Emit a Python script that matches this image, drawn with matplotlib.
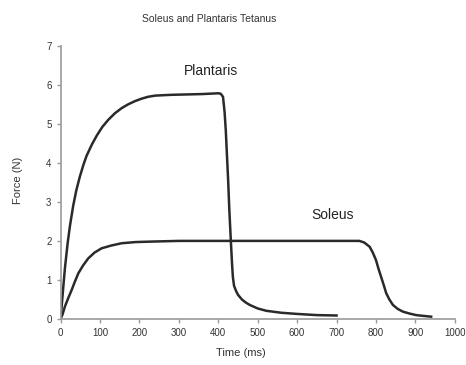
import matplotlib
matplotlib.use('Agg')
import matplotlib.pyplot as plt

plt.rcParams['font.family'] = ['Liberation Sans', 'DejaVu Sans']

# plantaris tetanus (time in ms, force in N)
plantarisTime = [0, 5, 11, 18, 24, 32, 40, 49, 58, 66, 80, 92, 106, 121, 138, 155, 172, 189, 205, 222, 240,
                 280, 320, 360, 400, 406, 412, 416, 419, 422, 425, 428, 432, 435, 437, 440, 445, 450,
                 460, 470, 480, 500, 522, 560, 600, 650, 700]
plantarisForce = [0, 0.6, 1.3, 1.95, 2.4, 2.9, 3.3, 3.65, 3.95, 4.18, 4.48, 4.7, 4.92, 5.1, 5.27, 5.4, 5.5, 5.58, 5.64, 5.69, 5.72,
                  5.74, 5.75, 5.76, 5.78, 5.77, 5.69, 5.3, 4.84, 4.2, 3.56, 2.8, 1.98, 1.4, 1.08, 0.85, 0.72, 0.62,
                  0.5, 0.42, 0.36, 0.27, 0.21, 0.16, 0.13, 0.1, 0.09]

# soleus tetanus
soleusTime = [0, 5, 11, 20, 28, 36, 45, 57, 70, 86, 104, 128, 155, 190, 222, 260, 300, 400, 500, 600, 700,
              758, 770, 784, 792, 800, 806, 813, 820, 826, 834, 843, 855, 868, 885, 902, 920, 940]
soleusForce = [0, 0.12, 0.32, 0.55, 0.74, 0.95, 1.17, 1.37, 1.55, 1.7, 1.81, 1.88, 1.94, 1.97, 1.98, 1.99, 2.0, 2.0, 2.0, 2.0, 2.0,
               2.0, 1.96, 1.85, 1.7, 1.51, 1.3, 1.08, 0.86, 0.66, 0.5, 0.36, 0.26, 0.19, 0.14, 0.1, 0.08, 0.06]

xTicks = [0, 100, 200, 300, 400, 500, 600, 700, 800, 900, 1000]
yTicks = [0, 1, 2, 3, 4, 5, 6, 7]

fig = plt.figure(figsize=(4.66, 3.65), dpi=100)
ax = fig.add_axes([0.13, 0.126, 0.846, 0.749])

ax.plot(plantarisTime, plantarisForce, color='#2a2a2a', linewidth=1.8)
ax.plot(soleusTime, soleusForce, color='#2a2a2a', linewidth=1.8)

ax.set_xlim(0, 1000)
ax.set_ylim(0, 7)
ax.set_xticks(xTicks)
ax.set_yticks(yTicks)

for side in ['top', 'right']:
    ax.spines[side].set_visible(False)
for side in ['left', 'bottom']:
    ax.spines[side].set_color('#9a9a9a')
    ax.spines[side].set_linewidth(1.2)
ax.tick_params(colors='#9a9a9a', labelcolor='#333333', labelsize=7, length=3, width=1)

ax.text(381, 6.36, 'Plantaris', fontsize=10, color='#222222', ha='center', va='center')
ax.text(690, 2.66, 'Soleus', fontsize=10, color='#222222', ha='center', va='center')

fig.text(0.449, 0.948, 'Soleus and Plantaris Tetanus', fontsize=7.5, color='#333333', ha='center', va='center')
fig.text(0.517, 0.02, 'Time (ms)', fontsize=8, color='#333333', ha='center', va='bottom')
fig.text(0.038, 0.507, 'Force (N)', fontsize=8, color='#333333', ha='center', va='center', rotation=90)

fig.savefig('out.png', dpi=100)
